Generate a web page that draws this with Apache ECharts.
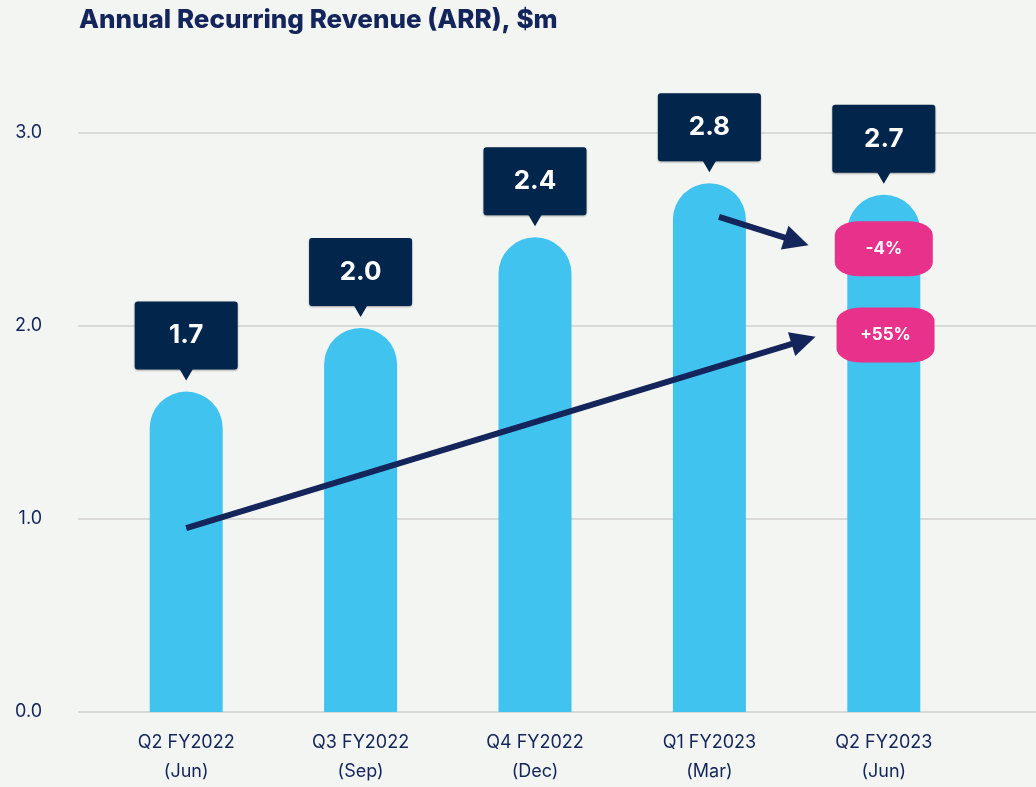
<!DOCTYPE html>
<html>
<head>
<meta charset="utf-8">
<script src="https://cdn.jsdelivr.net/npm/echarts@6/dist/echarts.min.js"></script>
<style>
html,body{margin:0;padding:0;background:#f3f5f2;}
#chart{width:1036px;height:787px;}
</style>
</head>
<body>
<div id="chart"></div>
<script>
// ---- data ----
const titleText = 'Annual Recurring Revenue (ARR), $m';
const categories = ['Q2 FY2022\n(Jun)', 'Q3 FY2022\n(Sep)', 'Q4 FY2022\n(Dec)', 'Q1 FY2023\n(Mar)', 'Q2 FY2023\n(Jun)'];
const arrValues = [1.66, 1.99, 2.46, 2.74, 2.68];
const arrLabels = ['1.7', '2.0', '2.4', '2.8', '2.7'];
const yMin = 0, yMax = 3, yInterval = 1;
// change badges (placed at the last category)
const badgeTexts = ['-4%', '+55%'];
const badgeX = [4, 4.01];
const badgeY = [2.40, 1.953];
// arrows [x(category index), y(value)]
const arrowFrom = [[3.055, 2.565], [0.0, 0.953]];
const arrowTo = [[3.50, 2.438], [3.54, 1.925]];

const NAVY = '#13255a';
const BOX = '#02254b';
const BAR = '#41c3ef';
const PINK = '#e7318a';

const chart = echarts.init(document.getElementById('chart'));
const option = {
  backgroundColor: '#f3f5f2',
  animation: false,
  title: {
    text: titleText, left: 74, top: 2,
    textStyle: {fontFamily: 'Inter', fontWeight: 800, fontSize: 26, color: NAVY}
  },
  grid: [
    {left: 78, right: 0, top: 133, bottom: 75},
    {left: 99, right: 65, top: 133, bottom: 75}
  ],
  xAxis: [
    {type: 'category', gridIndex: 0, data: categories, show: false},
    {type: 'category', gridIndex: 1, data: categories,
     axisLine: {show: false}, axisTick: {show: false},
     axisLabel: {margin: 16, lineHeight: 29, fontFamily: 'Inter', fontSize: 18, color: NAVY}},
    {type: 'value', gridIndex: 1, min: -0.5, max: 4.5, show: false}
  ],
  yAxis: [
    {type: 'value', gridIndex: 0, min: yMin, max: yMax, interval: yInterval,
     axisLine: {show: false}, axisTick: {show: false},
     axisLabel: {margin: 36, fontFamily: 'Inter', fontSize: 18, color: NAVY,
                 formatter: v => v.toFixed(1)},
     splitLine: {lineStyle: {color: '#d9dad8', width: 2}}},
    {type: 'value', gridIndex: 1, min: yMin, max: yMax, interval: yInterval, show: false}
  ],
  series: [
    {
      type: 'bar', xAxisIndex: 1, yAxisIndex: 1, data: arrValues,
      barWidth: 73, itemStyle: {color: BAR, borderRadius: [36.5, 36.5, 0, 0]}, z: 2
    },
    {
      type: 'custom', xAxisIndex: 1, yAxisIndex: 1, z: 5, clip: false,
      data: arrValues.map((v, i) => [i, v]),
      renderItem: function (params, api) {
        const p = api.coord([api.value(0), api.value(1)]);
        const label = arrLabels[params.dataIndex];
        return {
          type: 'group',
          children: [
            {type: 'rect', shape: {x: p[0] - 51.5, y: p[1] - 90, width: 103, height: 68, r: 3},
             style: {fill: BOX, shadowBlur: 2, shadowColor: 'rgba(0,0,0,0.35)', shadowOffsetY: 1}},
            {type: 'polygon', shape: {points: [[p[0] - 7, p[1] - 23], [p[0] + 7, p[1] - 23], [p[0], p[1] - 11]]},
             style: {fill: BOX}},
            {type: 'text', x: p[0], y: p[1] - 56,
             style: {text: label, fill: '#ffffff', font: 'bold 26px Inter', align: 'center', verticalAlign: 'middle'}}
          ]
        };
      }
    },
    {
      type: 'lines', coordinateSystem: 'cartesian2d', xAxisIndex: 2, yAxisIndex: 1, z: 6,
      symbol: ['none', 'triangle'], symbolSize: [22, 25],
      lineStyle: {color: NAVY, width: 6, opacity: 1},
      data: arrowFrom.map((f, i) => ({coords: [f, arrowTo[i]]}))
    },
    {
      type: 'scatter', xAxisIndex: 2, yAxisIndex: 1, z: 7,
      symbol: 'roundRect', symbolSize: [98, 55],
      itemStyle: {color: PINK, opacity: 1},
      label: {show: true, position: 'inside', formatter: p => badgeTexts[p.dataIndex],
              color: '#ffffff', fontFamily: 'Inter', fontWeight: 'bold', fontSize: 17},
      data: badgeX.map((x, i) => [x, badgeY[i]])
    }
  ]
};
chart.setOption(option);
</script>
</body>
</html>
